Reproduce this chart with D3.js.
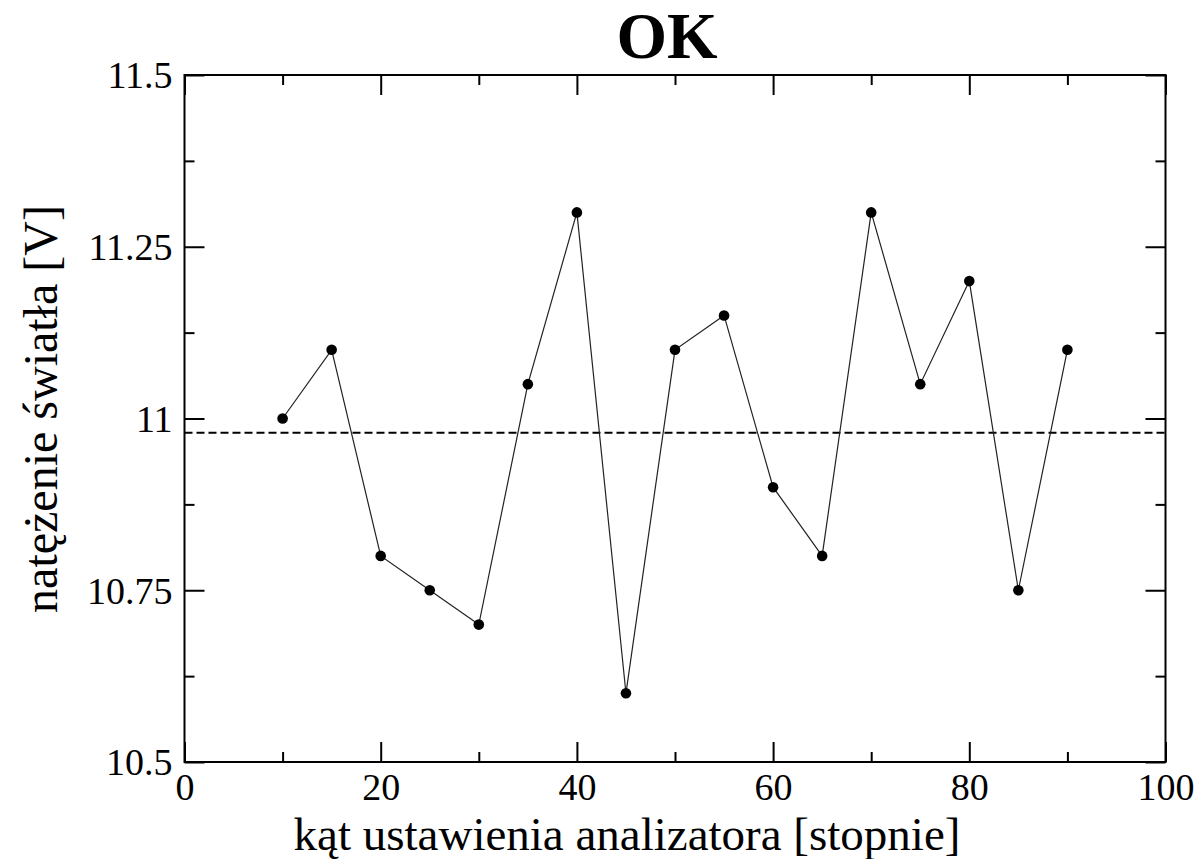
<!DOCTYPE html>
<html><head><meta charset="utf-8">
<script src="https://cdn.jsdelivr.net/npm/d3@7"></script>
<style>
html,body{margin:0;padding:0;background:#fff;}
svg text{font-family:"Liberation Serif","Times New Roman",serif;fill:#000;}
</style></head>
<body>
<svg id="c" width="1201" height="859"></svg>
<script>
const angles = [10,15,20,25,30,35,40,45,50,55,60,65,70,75,80,85,90];
const voltages = [11.0,11.1,10.8,10.75,10.7,11.05,11.3,10.6,11.1,11.15,10.9,10.8,11.3,11.05,11.2,10.75,11.1];
const xMajorTicks = [0,20,40,60,80,100];
const xMinorTicks = [10,30,50,70,90];
const yMajorTicks = [10.5,10.75,11,11.25,11.5];
const yTickLabels = ["10.5","10.75","11","11.25","11.5"];
const yMinorTicks = [10.625,10.875,11.125,11.375];
const titleText = "OK";
const xLabel = "kąt ustawienia analizatora [stopnie]";
const yLabel = "natężenie światła [V]";
const meanValue = d3.mean(voltages);

const L=184.5, R=1165.5, T=75, B=762;
const svg = d3.select("#c");
const x = d3.scaleLinear().domain([0,100]).range([L,R]);
const y = d3.scaleLinear().domain([10.5,11.5]).range([B,T]);

// mean dashed line
svg.append("line").attr("x1",L).attr("x2",R).attr("y1",y(meanValue)).attr("y2",y(meanValue))
  .attr("stroke","#000").attr("stroke-width",2).attr("stroke-dasharray","8,4");

// data line
const line = d3.line().x((d,i)=>x(angles[i])).y(d=>y(d));
svg.append("path").datum(voltages).attr("d",line).attr("fill","none").attr("stroke","#222").attr("stroke-width",1.2);
svg.selectAll("circle.pt").data(voltages).enter().append("circle")
  .attr("cx",(d,i)=>x(angles[i])).attr("cy",d=>y(d)).attr("r",5.3).attr("fill","#000");

// axes with inward ticks
const fmtY = d => yTickLabels[yMajorTicks.indexOf(d)];
const gBottom = svg.append("g").attr("transform",`translate(0,${B})`)
  .call(d3.axisBottom(x).tickValues(xMajorTicks).tickSize(-20).tickPadding(11).tickFormat(d3.format("d")));
svg.append("g").attr("transform",`translate(0,${B})`)
  .call(d3.axisBottom(x).tickValues(xMinorTicks).tickSize(-10).tickFormat(""));
svg.append("g").attr("transform",`translate(0,${T})`)
  .call(d3.axisTop(x).tickValues(xMajorTicks).tickSize(-20).tickFormat(""));
svg.append("g").attr("transform",`translate(0,${T})`)
  .call(d3.axisTop(x).tickValues(xMinorTicks).tickSize(-10).tickFormat(""));
const gLeft = svg.append("g").attr("transform",`translate(${L},0)`)
  .call(d3.axisLeft(y).tickValues(yMajorTicks).tickSize(-20).tickPadding(12).tickFormat(fmtY));
svg.append("g").attr("transform",`translate(${L},0)`)
  .call(d3.axisLeft(y).tickValues(yMinorTicks).tickSize(-10).tickFormat(""));
svg.append("g").attr("transform",`translate(${R},0)`)
  .call(d3.axisRight(y).tickValues(yMajorTicks).tickSize(-20).tickFormat(""));
svg.append("g").attr("transform",`translate(${R},0)`)
  .call(d3.axisRight(y).tickValues(yMinorTicks).tickSize(-10).tickFormat(""));

svg.selectAll(".domain").remove();
svg.selectAll(".tick line").attr("stroke","#000").attr("stroke-width",2);
svg.selectAll(".tick text").style("font-family","'Liberation Serif',serif").style("font-size","38px").attr("fill","#000");
gLeft.selectAll(".tick text").attr("dy","0.34em");

// frame
svg.append("rect").attr("x",L).attr("y",T).attr("width",R-L).attr("height",B-T)
  .attr("fill","none").attr("stroke","#000").attr("stroke-width",2);

// title
svg.append("text").attr("x",667).attr("y",58).attr("text-anchor","middle")
  .style("font-size","65px").style("font-weight","bold").text(titleText);
// x label
svg.append("text").attr("x",627).attr("y",850).attr("text-anchor","middle")
  .style("font-size","47px").text(xLabel);
// y label
svg.append("text").attr("transform","translate(57,409) rotate(-90)").attr("text-anchor","middle")
  .style("font-size","48px").text(yLabel);
</script>
</body></html>
